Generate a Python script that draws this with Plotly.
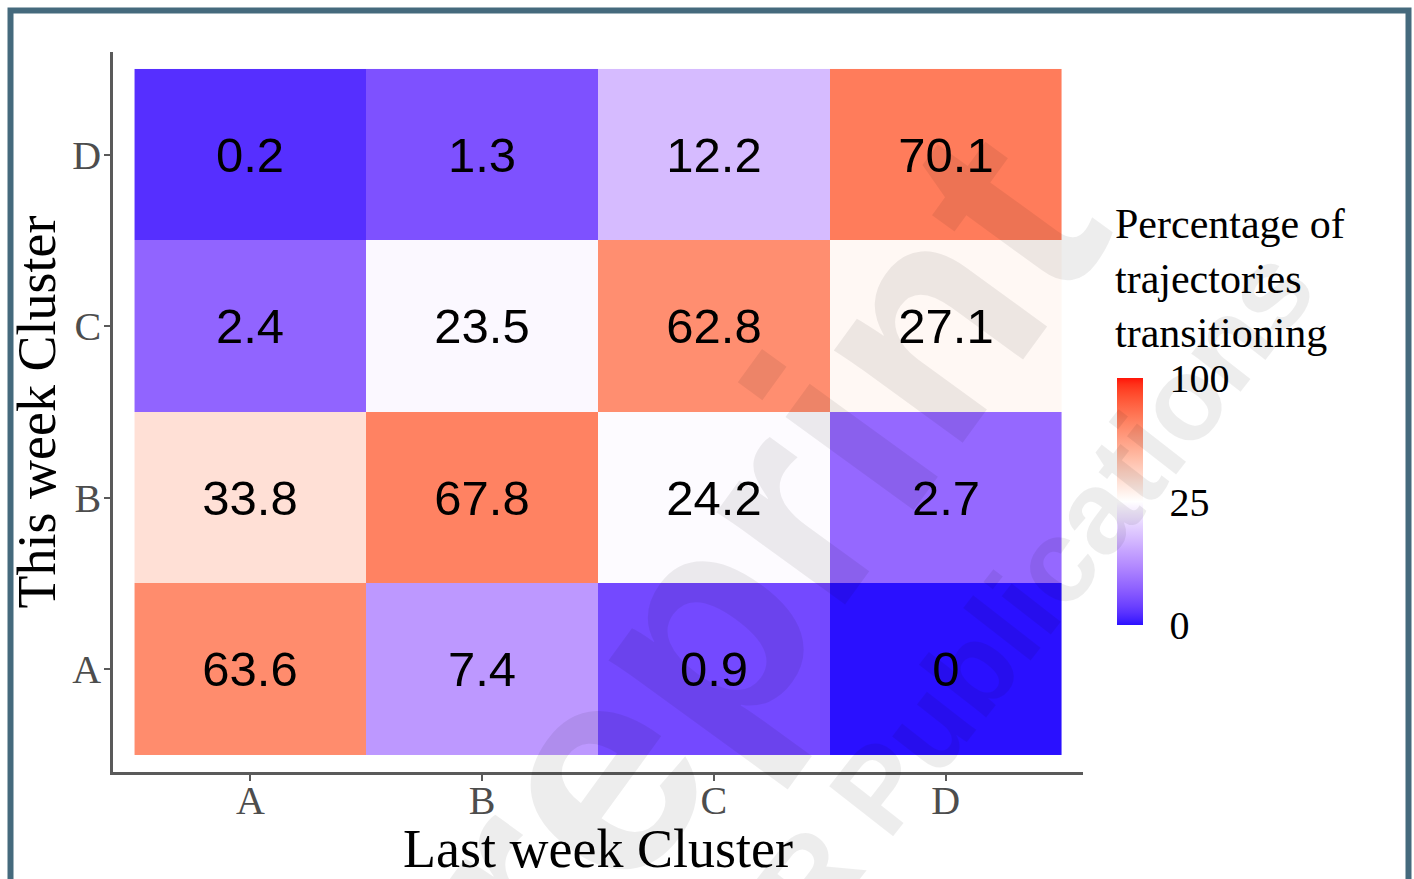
import numpy as np
import plotly.graph_objects as go

# ---- data ----
last_week = ["A", "B", "C", "D"]          # x categories
this_week = ["A", "B", "C", "D"]          # y categories (A at bottom)
row_A = [63.6, 7.4, 0.9, 0]
row_B = [33.8, 67.8, 24.2, 2.7]
row_C = [2.4, 23.5, 62.8, 27.1]
row_D = [0.2, 1.3, 12.2, 70.1]
legend_ticks = [0, 25, 100]

values = np.array([row_A, row_B, row_C, row_D], dtype=float)
z = np.sqrt(values)                       # sqrt-transformed colour scale
text = [[f"{v:g}" for v in r] for r in values]

# ---- diverging Lab gradient (blue - white - red), midpoint 25 on sqrt scale ----
M = np.array([[0.4124564, 0.3575761, 0.1804375],
              [0.2126729, 0.7151522, 0.0721750],
              [0.0193339, 0.1191920, 0.9503041]])
WHITE = np.array([0.95047, 1.0, 1.08883])

def rgb2lab(rgb):
    c = np.array(rgb) / 255.0
    c = np.where(c <= 0.04045, c / 12.92, ((c + 0.055) / 1.055) ** 2.4)
    xyz = M @ c / WHITE
    f = np.where(xyz > 0.008856, np.cbrt(xyz), 7.787 * xyz + 16 / 116)
    return np.array([116 * f[1] - 16, 500 * (f[0] - f[1]), 200 * (f[1] - f[2])])

def lab2rgb(lab):
    L_, a, b = lab
    fy = (L_ + 16) / 116
    fx = fy + a / 500
    fz = fy - b / 200
    f = np.array([fx, fy, fz])
    xyz = np.where(f ** 3 > 0.008856, f ** 3, (f - 16 / 116) / 7.787) * WHITE
    c = np.linalg.inv(M) @ xyz
    c = np.clip(c, 0, 1)
    c = np.where(c <= 0.0031308, 12.92 * c, 1.055 * c ** (1 / 2.4) - 0.055)
    r, g, bb = (np.clip(c, 0, 1) * 255).round().astype(int)
    return f"rgb({r},{g},{bb})"

lab_lo, lab_mid, lab_hi = rgb2lab((42, 16, 255)), rgb2lab((255, 255, 255)), rgb2lab((255, 20, 8))
colorscale = []
for t in np.linspace(0, 1, 41):
    if t <= 0.5:
        f = t / 0.5
        lab = lab_lo + (lab_mid - lab_lo) * f
    else:
        f = (t - 0.5) / 0.5
        lab = lab_mid + (lab_hi - lab_mid) * f
    colorscale.append([float(t), lab2rgb(lab)])

SERIF = "Liberation Serif, Times New Roman, serif"
SANS = "Liberation Sans, Arial, sans-serif"

L, T, W, H = 113, 52, 970, 720
def px(x):
    return (x - L) / W
def py(y):
    return (T + H - y) / H

fig = go.Figure(go.Heatmap(
    x=last_week, y=this_week, z=z,
    text=text, texttemplate="%{text}",
    textfont=dict(family=SANS, size=49, color="black"),
    colorscale=colorscale, zmin=0, zmax=10,
    hoverinfo="skip",
    colorbar=dict(
        thickness=26, thicknessmode="pixels",
        len=247, lenmode="pixels",
        x=px(1117), xanchor="left", y=py(625), yanchor="bottom",
        xpad=0, ypad=0, outlinewidth=0,
        tickvals=list(np.sqrt(legend_ticks)),
        ticktext=[str(t) for t in legend_ticks],
        ticks="outside", ticklen=19, tickcolor="rgba(0,0,0,0)",
        tickfont=dict(family=SERIF, size=40, color="black"),
    ),
))

# Legend title
fig.add_annotation(
    text="Percentage of<br>trajectories<br>transitioning",
    xref="paper", yref="paper", x=px(1113), y=py(199), xanchor="left", yanchor="top",
    align="left", showarrow=False,
    font=dict(family=SERIF, size=42, color="black"),
)

# Faint watermark
fig.add_annotation(
    text="<b>preprint</b>", xref="paper", yref="paper",
    x=px(700), y=py(629), xanchor="center", yanchor="middle",
    showarrow=False, textangle=-54,
    font=dict(family=SANS, size=300, color="rgba(0,0,0,0.07)"),
)
fig.add_annotation(
    text="<b>JMIR Publications</b>", xref="paper", yref="paper",
    x=px(975), y=py(665), xanchor="center", yanchor="middle",
    showarrow=False, textangle=-52,
    font=dict(family=SANS, size=118, color="rgba(0,0,0,0.07)"),
)

# Outer frame
fig.add_shape(
    type="rect", xref="paper", yref="paper",
    x0=px(10.5), x1=px(1408.5), y0=-0.3, y1=py(10.5),
    line=dict(color="#456a7d", width=6), fillcolor="rgba(0,0,0,0)", layer="above",
)

axis_common = dict(
    showline=True, linecolor="#5a5a5a", linewidth=2.5,
    ticks="outside", ticklen=6, tickwidth=1.5, tickcolor="#5a5a5a",
    showgrid=False, zeroline=False, automargin=False,
    tickfont=dict(family=SERIF, size=40, color="#4d4d4d"),
)

fig.update_layout(
    width=1414, height=879,
    margin=dict(l=L, r=1414 - L - W, t=T, b=879 - T - H, autoexpand=False),
    paper_bgcolor="white", plot_bgcolor="white",
    xaxis=dict(**axis_common, range=[-0.593, 3.593], ticklabelstandoff=-15,
               title=dict(text="Last week Cluster", standoff=6,
                          font=dict(family=SERIF, size=54, color="black"))),
    yaxis=dict(**axis_common, range=[-0.599, 3.599], ticklabelstandoff=-5,
               title=dict(text="This week Cluster", standoff=0,
                          font=dict(family=SERIF, size=54, color="black"))),
)

fig.write_html("out.html")
